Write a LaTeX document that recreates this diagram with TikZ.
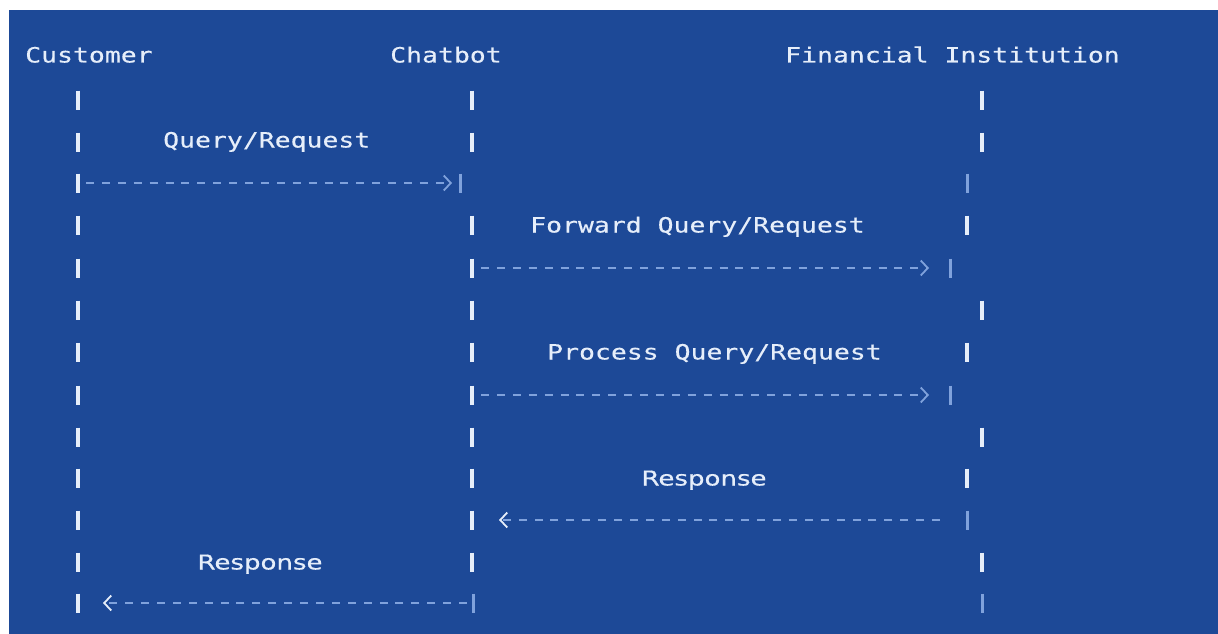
\documentclass[tikz,border=0pt]{standalone}
\usepackage{fontspec}
\usetikzlibrary{arrows.meta}
\newfontfamily\seqmono[FakeStretch=1.26,FakeBold=0.3]{DejaVu Sans Mono}
\newfontfamily\seqsans[FakeStretch=1.27,FakeBold=0.5]{DejaVu Sans}
\definecolor{seqbg}{RGB}{29,73,151}
\definecolor{seqfg}{RGB}{230,238,250}
\definecolor{seqdim}{RGB}{128,162,220}

\tikzset{
  actor/.style={text=seqfg, font=\seqmono\fontsize{21}{25}\selectfont, inner sep=0pt, anchor=base west},
  msglabel/.style={actor},
  replylabel/.style={text=seqfg, font=\seqsans\fontsize{20.5}{25}\selectfont, inner sep=0pt, anchor=base},
  tick/.style={draw=seqfg, line width=3.4pt},
  dimtick/.style={draw=seqdim, line width=3pt},
  msg/.style={draw=seqdim, line width=1.8pt, dash pattern=on 8pt off 7.9pt,
    -{Straight Barb[length=7pt,width=15pt]}},
  back/.style={msg, -{Straight Barb[length=7pt,width=15pt,color=seqfg]}},
}

\begin{document}
\begin{tikzpicture}[x=1pt, y=-1pt]
\useasboundingbox (0,0) rectangle (1218,634);
\fill[seqbg] (9,10) rectangle (1218,634);

% participants
\node[actor] (cust) at (25,62.5) {Customer};
\node[actor] (bot) at (390,62.5) {Chatbot};
\node[actor] (fin) at (785,62.5) {Financial Institution};

% lifelines, one tick per row
\foreach \y in {100,142,183,225,268,310,352,395,437,478,520,562,603}
  \draw[tick] (78,\y-9.5) -- (78,\y+9.5);
\foreach \x/\y in {472/100,472/142,472/225,472/268,472/310,472/352,472/395,
    472/437,472/478,472/520,472/562,982/100,982/142,982/310,982/437,982/562,
    967/225,967/352,967/478}
  \draw[tick] (\x,\y-9.5) -- (\x,\y+9.5);
\foreach \x/\y in {460/183,473/603,967/183,967/520,950/268,950/395,982/603}
  \draw[dimtick] (\x,\y-9.5) -- (\x,\y+9.5);

% messages
\coordinate (q-from) at (86,183);
\coordinate (q-to) at (452,183);
\coordinate (f-from) at (481,268);
\coordinate (f-to) at (929,268);
\coordinate (p-from) at (481,395);
\coordinate (p-to) at (929,395);
\coordinate (r-from) at (940,520);
\coordinate (r-to) at (499,520);
\coordinate (a-from) at (467,603);
\coordinate (a-to) at (103,603);

\draw[msg] (q-from) -- (q-to);
\draw[msg] (f-from) -- (f-to);
\draw[msg] (p-from) -- (p-to);
\draw[back] (r-from) -- (r-to);
\draw[back] (a-from) -- (a-to);

\node[msglabel] (lquery) at (163,147.5) {Query/Request};
\node[msglabel] (lfwd) at (530,232.5) {Forward Query/Request};
\node[msglabel] (lproc) at (547,359.5) {Process Query/Request};
\node[replylabel] (lresp) at (704,485.5) {Response};
\node[replylabel] (lreply) at (260,569.5) {Response};
\end{tikzpicture}
\end{document}
